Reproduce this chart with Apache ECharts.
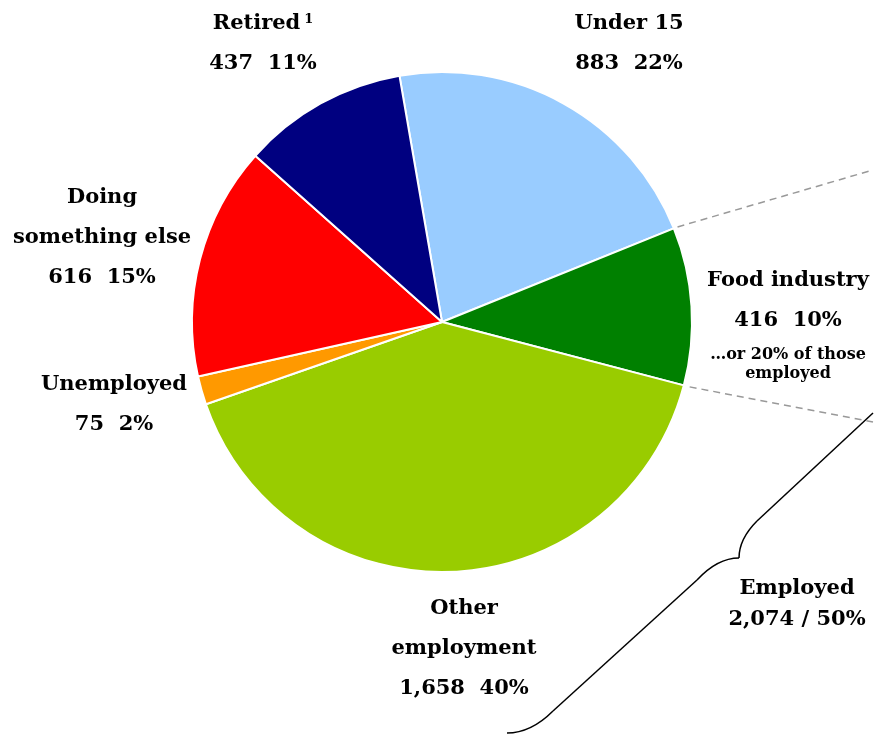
<!DOCTYPE html>
<html>
<head>
<meta charset="utf-8">
<title>Population by activity</title>
<script src="https://cdn.jsdelivr.net/npm/echarts@6/dist/echarts.min.js"></script>
<style>
  html, body { margin: 0; padding: 0; background: #fff; }
  #chart { width: 874px; height: 735px; }
</style>
</head>
<body>
<div id="chart"></div>
<script>
// Slices, clockwise from just left of twelve o'clock
const categories = ['Under 15', 'Food industry', 'Other employment', 'Unemployed', 'Doing something else', 'Retired'];
const counts = [883, 416, 1658, 75, 616, 437];
const shareLabels = ['22%', '10%', '40%', '2%', '15%', '11%'];
// How each category name wraps onto lines
const nameLines = [['Under 15'], ['Food industry'], ['Other', 'employment'], ['Unemployed'], ['Doing', 'something else'], ['Retired']];
const footnoteOf = ['', '', '', '', '', '1'];
// Employed = food industry + other employment
const employedIdx = [1, 2];
const employedShare = '50%';

const sliceColors = ['#99CCFF', '#008000', '#99CC00', '#FF9900', '#FF0000', '#000080'];

const FONT = 'DejaVu Serif';
const fmt = v => v.toLocaleString('en-US');
const employedTotal = employedIdx.reduce((s, i) => s + counts[i], 0);

const CX = 442, CY = 322, R = 250;
const START = 99.8;   // degrees, counter-clockwise from three o'clock
const total = counts.reduce((a, b) => a + b, 0);

// Label block centres, by slice index
const labelPos = [
  [629, 44], [788, 323], [464, 649], [114, 405], [102, 238], [263, 44]
];

function labelText(i) {
  const lines = nameLines[i].map((t, k) => {
    let s = '{n|' + t + '}';
    if (k === nameLines[i].length - 1 && footnoteOf[i]) s += '{s|' + footnoteOf[i] + '}';
    return s;
  });
  lines.push('{n|' + fmt(counts[i]) + '  ' + shareLabels[i] + '}');
  if (i === 1) {
    const pct = Math.round(counts[i] / employedTotal * 100);
    lines.push('{note1|\u2026or ' + pct + '% of those}');
    lines.push('{note|employed}');
  }
  return lines.join('\n');
}

// Point on the boundary after `k` slices, at radius r
function boundaryPoint(k, r) {
  let acc = 0;
  for (let j = 0; j < k; j++) acc += counts[j];
  const deg = START - acc / total * 360;
  const a = deg * Math.PI / 180;
  return [CX + r * Math.cos(a), CY - r * Math.sin(a)];
}
const p1 = boundaryPoint(employedIdx[0], R + 4);
const p2 = boundaryPoint(employedIdx[0] + 1, R + 6);

const braceStyle = { stroke: '#000000', lineWidth: 1.5, fill: null };
const dashStyle = { stroke: '#999999', lineWidth: 1.5, lineDash: [7, 5] };

const chart = echarts.init(document.getElementById('chart'), null, { renderer: 'canvas' });
chart.setOption({
  backgroundColor: '#ffffff',
  animation: false,
  series: [{
    type: 'pie',
    center: [CX, CY],
    radius: [0, R],
    startAngle: START,
    clockwise: true,
    avoidLabelOverlap: false,
    itemStyle: { borderColor: '#ffffff', borderWidth: 2 },
    emphasis: { disabled: true },
    data: categories.map((c, i) => ({
      name: c, value: counts[i],
      itemStyle: { color: sliceColors[i] }
    })),
    label: {
      show: true,
      position: 'outside',
      formatter: p => labelText(p.dataIndex),
      align: 'center',
      rich: {
        n: { fontFamily: FONT, fontWeight: 'bold', fontSize: 21, lineHeight: 40, color: '#000' },
        s: { fontFamily: FONT, fontWeight: 'bold', fontSize: 13, lineHeight: 16, verticalAlign: 'top', color: '#000', padding: [9, 0, 0, 4] },
        note1: { fontFamily: FONT, fontWeight: 'bold', fontSize: 16, lineHeight: 22, color: '#000', padding: [6, 0, 0, 0] },
        note: { fontFamily: FONT, fontWeight: 'bold', fontSize: 16, lineHeight: 22, color: '#000' }
      }
    },
    labelLine: { show: false },
    labelLayout: params => ({
      x: labelPos[params.dataIndex][0],
      y: labelPos[params.dataIndex][1],
      align: 'center',
      verticalAlign: 'middle',
      hideOverlap: false
    })
  }],
  graphic: [
    { type: 'line', silent: true, shape: { x1: p1[0], y1: p1[1], x2: 873, y2: 170 }, style: dashStyle },
    { type: 'line', silent: true, shape: { x1: p2[0], y1: p2[1], x2: 873, y2: 422 }, style: dashStyle },
    // curly brace spanning the employed slices
    { type: 'line', silent: true, shape: { x1: 873, y1: 413, x2: 757, y2: 521 }, style: braceStyle },
    { type: 'bezierCurve', silent: true, shape: { x1: 757, y1: 521, cpx1: 745, cpy1: 533, cpx2: 739, cpy2: 545, x2: 739, y2: 558 }, style: braceStyle },
    { type: 'bezierCurve', silent: true, shape: { x1: 739, y1: 558, cpx1: 725, cpy1: 558, cpx2: 710, cpy2: 566, x2: 697, y2: 580 }, style: braceStyle },
    { type: 'line', silent: true, shape: { x1: 697, y1: 580, x2: 553, y2: 711 }, style: braceStyle },
    { type: 'bezierCurve', silent: true, shape: { x1: 553, y1: 711, cpx1: 540, cpy1: 724, cpx2: 525, cpy2: 733, x2: 507, y2: 733 }, style: braceStyle },
    {
      type: 'text', silent: true,
      x: 797, y: 604,
      style: {
        text: 'Employed\n' + fmt(employedTotal) + ' / ' + employedShare,
        fontFamily: FONT, fontWeight: 'bold', fontSize: 21, lineHeight: 31,
        fill: '#000', align: 'center', verticalAlign: 'middle'
      }
    }
  ]
});
</script>
</body>
</html>
